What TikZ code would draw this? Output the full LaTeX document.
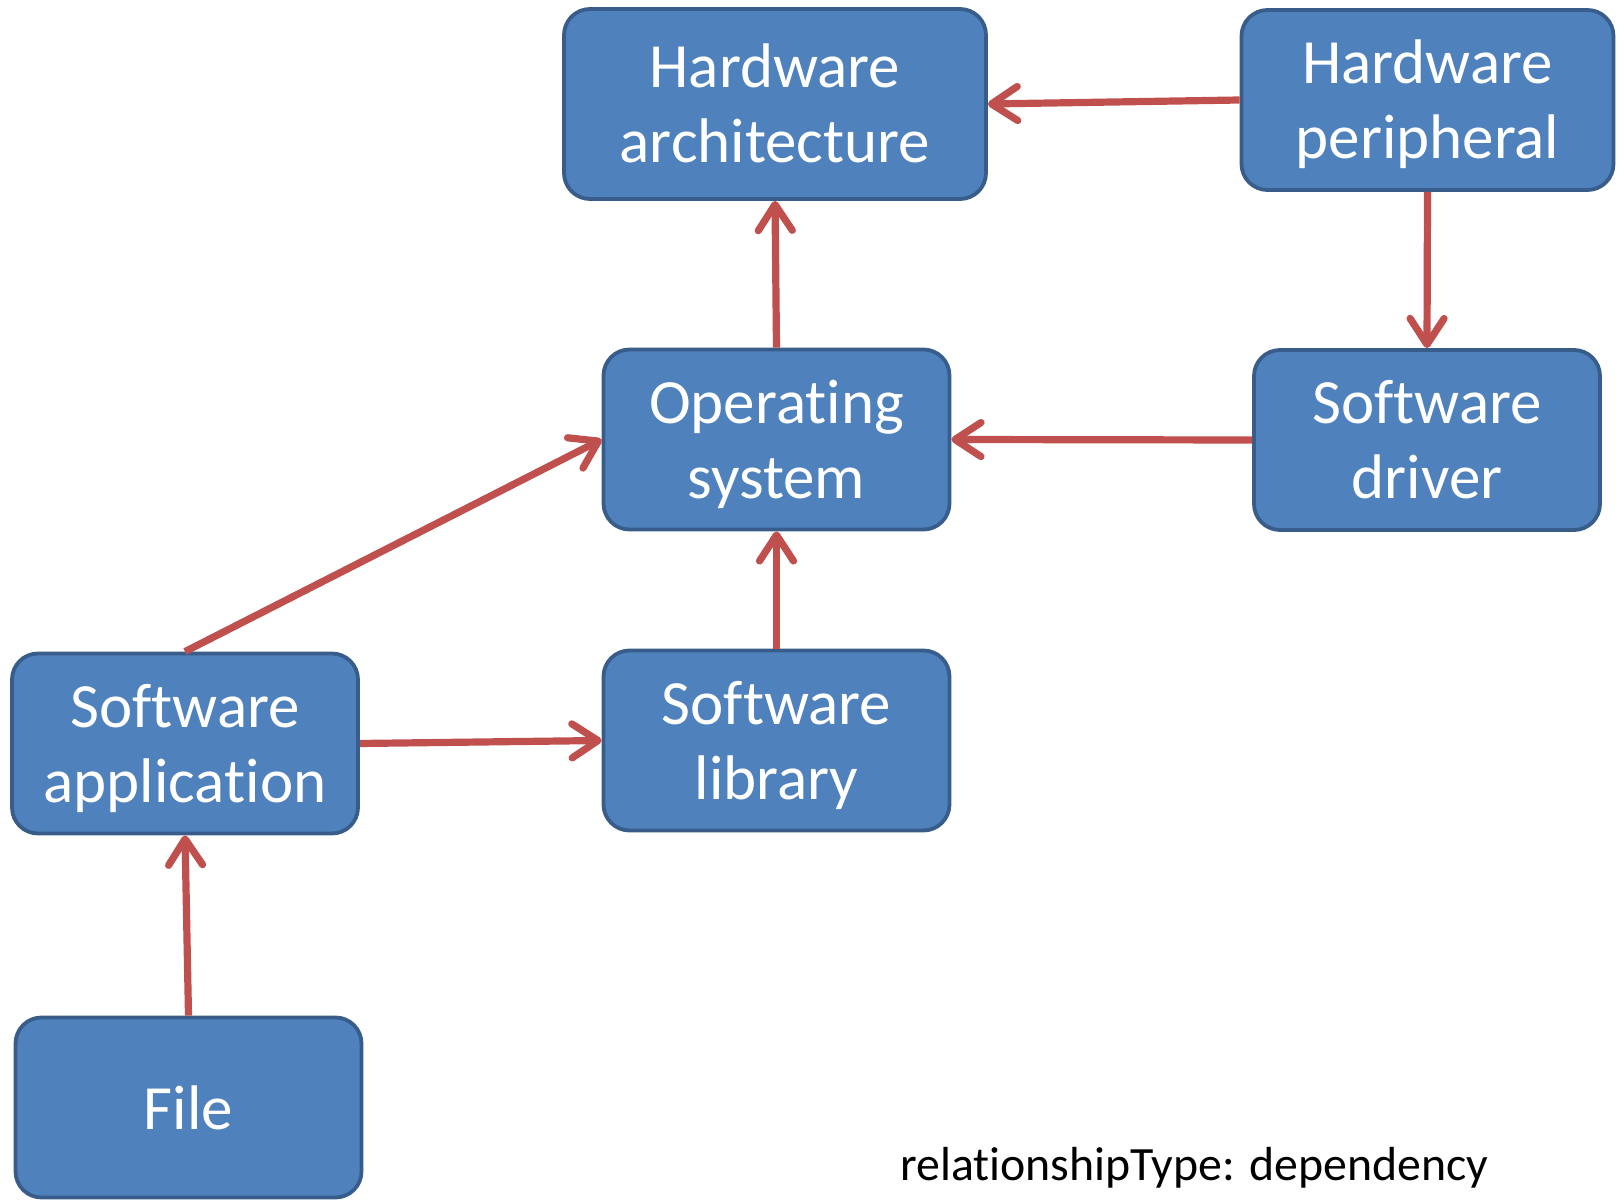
\documentclass[tikz,border=0pt]{standalone}
\usepackage{fontspec}
\setmainfont[Ligatures={NoCommon}]{Carlito}
\usetikzlibrary{arrows.meta}
\definecolor{boxfill}{HTML}{4F81BD}
\definecolor{boxline}{HTML}{385D8A}
\definecolor{arrowred}{HTML}{C0504D}
\newcommand{\bl}{\rule[-6.5pt]{0pt}{34.5pt}}
\begin{document}
\begin{tikzpicture}[x=0.5pt,y=-0.5pt,
  box/.style={draw=boxline, line width=1.9pt, fill=boxfill, rounded corners=13pt,
    text=white, align=center, inner sep=0pt,
    font=\fontsize{31.5}{37.5}\selectfont},
  dep/.style={draw=arrowred, line width=3.6pt,
    -{Straight Barb[length=13pt,width=17pt,round]}}
]
\useasboundingbox (0,0) rectangle (1624,1203);
\node[box, minimum width=211pt, minimum height=95pt] (ha) at (775,104) {\bl Hardware\\\bl architecture};
\node[box, minimum width=186pt, minimum height=90pt] (hp) at (1427.5,100) {\bl Hardware\\\bl peripheral};
\node[box, minimum width=173pt, minimum height=90pt] (os) at (776.5,439.5) {\bl Operating\\\bl system};
\node[box, minimum width=173pt, minimum height=90pt] (sd) at (1427,440) {\bl Software\\\bl driver};
\node[box, minimum width=173pt, minimum height=90pt] (sl) at (776.5,740.5) {\bl Software\\\bl library};
\node[box, minimum width=173pt, minimum height=90pt] (sa) at (185,743.5) {\bl Software\\\bl application};
\node[box, minimum width=173pt, minimum height=90pt] (file) at (188.5,1107.5) {\bl File};
\node[anchor=base west, inner sep=0pt, font=\fontsize{23.9}{28}\selectfont] (lbl) at (900,1180) {relationshipType: dependency};
\draw[dep] (hp.west) -- (ha.east);
\draw[dep] (hp.south) -- (sd.north);
\draw[dep] (sd.west) -- (os.east);
\draw[dep] (os.north) -- (ha.south);
\draw[dep] (sl.north) -- (os.south);
\draw[dep] (sa.north) -- (os.west);
\draw[dep] (sa.east) -- (sl.west);
\draw[dep] (file.north) -- (sa.south);
\end{tikzpicture}
\end{document}
